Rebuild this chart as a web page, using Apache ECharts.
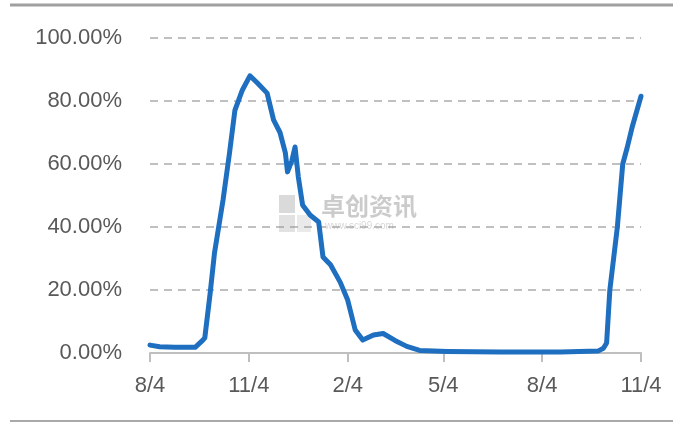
<!DOCTYPE html>
<html>
<head>
<meta charset="utf-8">
<style>
  html, body { margin: 0; padding: 0; background: #fff; }
  #chart { width: 673px; height: 423px; }
</style>
<script src="https://cdn.jsdelivr.net/npm/echarts@6/dist/echarts.min.js"></script>
</head>
<body>
<div id="chart"></div>
<script>
// Observation dates and the share (%) recorded on each one
const dates = [
  '2017-08-04', '2017-08-13', '2017-08-27', '2017-09-15', '2017-09-22', '2017-09-24',
  '2017-09-29', '2017-10-03', '2017-10-11', '2017-10-17', '2017-10-22', '2017-10-29',
  '2017-11-05', '2017-11-12', '2017-11-21', '2017-11-27', '2017-12-03', '2017-12-08',
  '2017-12-10', '2017-12-14', '2017-12-17', '2017-12-20', '2017-12-24', '2017-12-31',
  '2018-01-08', '2018-01-12', '2018-01-19', '2018-01-28', '2018-02-04', '2018-02-11',
  '2018-02-18', '2018-02-28', '2018-03-09', '2018-03-20', '2018-03-31', '2018-04-12',
  '2018-05-08', '2018-06-26', '2018-08-21', '2018-09-25', '2018-09-30', '2018-10-03',
  '2018-10-06', '2018-10-13', '2018-10-18', '2018-10-22', '2018-10-27', '2018-11-04'
];
const shares = [
  2.5, 2.0, 1.8, 1.8, 4.0, 4.8,
  19.0, 31.7, 48.6, 63.5, 77.0, 83.5,
  88.0, 85.7, 82.5, 74.0, 70.0, 63.5,
  57.5, 61.0, 65.4, 56.0, 47.0, 43.8,
  41.6, 30.5, 28.0, 22.5, 16.8, 7.3,
  4.1, 5.7, 6.2, 4.0, 2.1, 0.8,
  0.5, 0.3, 0.3, 0.6, 1.5, 3.2,
  20.0, 40.0, 60.0, 65.0, 72.0, 81.5
];

// Axis tick dates and their labels, y-axis range
const tickDates = ['2017-08-04', '2017-11-04', '2018-02-04', '2018-05-04', '2018-08-04', '2018-11-04'];
const tickLabels = ['8/4', '11/4', '2/4', '5/4', '8/4', '11/4'];
const yMin = 0, yMax = 100, yStep = 20;

// Dates are placed on a day-count axis starting at the first tick date
const DAY = 86400000;
function dayIndex(s) {
  const p = s.split('-').map(Number);
  const t0 = tickDates[0].split('-').map(Number);
  return Math.round((Date.UTC(p[0], p[1] - 1, p[2]) - Date.UTC(t0[0], t0[1] - 1, t0[2])) / DAY);
}

const seriesData = dates.map((d, i) => [dayIndex(d), shares[i]]);
const tickDays = tickDates.map(dayIndex);

const chart = echarts.init(document.getElementById('chart'), null, { renderer: 'canvas' });
const font = '"Liberation Sans", Arial, sans-serif';

chart.setOption({
  animation: false,
  backgroundColor: '#ffffff',
  grid: { left: 150, right: 32, top: 38, bottom: 70, containLabel: false },
  xAxis: {
    type: 'value',
    min: tickDays[0],
    max: tickDays[tickDays.length - 1],
    axisLine: { show: true, lineStyle: { color: '#bfbfbf', width: 2 } },
    axisTick: {
      show: true, length: 9, customValues: tickDays,
      lineStyle: { color: '#bfbfbf', width: 2 }
    },
    axisLabel: {
      customValues: tickDays,
      margin: 22,
      fontFamily: font,
      fontSize: 22,
      color: '#595959',
      formatter: function (v) {
        const i = tickDays.indexOf(Math.round(v));
        return i >= 0 ? tickLabels[i] : '';
      }
    },
    splitLine: { show: false }
  },
  yAxis: {
    type: 'value',
    min: yMin, max: yMax, interval: yStep,
    axisLine: { show: false },
    axisTick: { show: false },
    axisLabel: {
      margin: 28,
      fontFamily: font,
      fontSize: 22,
      color: '#595959',
      formatter: v => v.toFixed(2) + '%'
    },
    splitLine: {
      show: true,
      lineStyle: { color: '#c0c0c0', width: 2, type: [8, 6] }
    }
  },
  series: [{
    type: 'line',
    data: seriesData,
    showSymbol: false,
    smooth: false,
    lineStyle: { color: '#1f6fc0', width: 5, cap: 'round', join: 'round' },
    z: 3
  }],
  graphic: [
    // frame rules above and below the chart
    { type: 'line', shape: { x1: 10, y1: 5, x2: 673, y2: 5 }, style: { stroke: '#a0a0a0', lineWidth: 3 }, silent: true },
    { type: 'line', shape: { x1: 10, y1: 421, x2: 673, y2: 421 }, style: { stroke: '#8c8c8c', lineWidth: 1.5 }, silent: true },
    // brand watermark
    { type: 'rect', shape: { x: 279, y: 195, width: 16, height: 18 }, style: { fill: 'rgba(150,150,150,0.35)' }, silent: true, z: 1 },
    { type: 'rect', shape: { x: 279, y: 215, width: 16, height: 17 }, style: { fill: 'rgba(150,150,150,0.28)' }, silent: true, z: 1 },
    { type: 'rect', shape: { x: 297, y: 215, width: 14, height: 17 }, style: { fill: 'rgba(150,150,150,0.2)' }, silent: true, z: 1 },
    {
      type: 'text', left: 321, top: 194, silent: true, z: 1,
      style: { text: '卓创资讯', font: 'bold 24px "Noto Sans CJK SC", sans-serif', fill: 'rgba(140,140,140,0.45)' }
    },
    {
      type: 'text', left: 325, top: 221, silent: true, z: 1,
      style: { text: 'www.sci99.com', font: '10px "Liberation Sans", sans-serif', fill: 'rgba(140,140,140,0.35)' }
    }
  ]
});
</script>
</body>
</html>
